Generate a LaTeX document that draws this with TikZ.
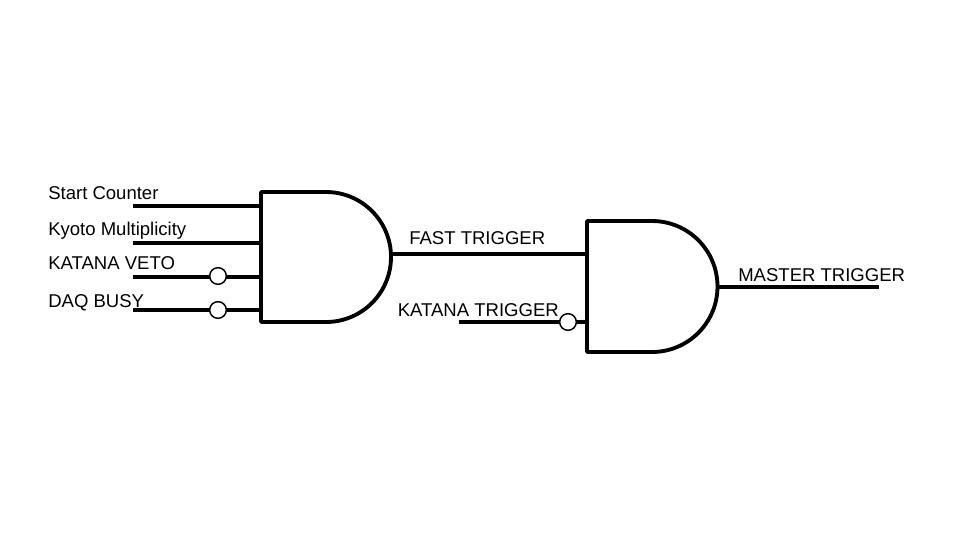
\documentclass[tikz,border=0pt]{standalone}
\usepackage{fontspec}
\setmainfont{Liberation Sans}
\usetikzlibrary{positioning,calc}
\tikzset{
    wire/.style={line width=2.4pt},
    gate/.style={line width=2.9pt,line join=round},
    bubble/.style={circle,draw,fill=white,line width=1.1pt,minimum size=12.5pt,inner sep=0pt},
    signal/.style={anchor=base west,inner sep=0pt,font=\fontsize{13.9pt}{16pt}\selectfont}
}
\begin{document}
\begin{tikzpicture}[x=0.75pt,y=-0.75pt]
    \useasboundingbox (0,0) rectangle (960,540);

    % First gate
    \coordinate (gateAin1) at (261,206);
    \coordinate (gateAin2) at (261,243);
    \coordinate (gateAin3) at (261,277);
    \coordinate (gateAin4) at (261,310);
    \coordinate (gateAout) at (391,254);
    \draw[gate] (261,192) -- (261,322) -- (326,322) arc (90:-90:65) -- cycle;

    % Second gate
    \coordinate (gateBin1) at (587,254);
    \coordinate (gateBin2) at (587,322);
    \coordinate (gateBout) at (717,287);
    \draw[gate] (587,221) -- (587,352) -- (652,352) arc (90:-90:65.5) -- cycle;

    % Inputs of the first gate
    \coordinate (start) at (133,206);
    \coordinate (kyoto) at (133,243);
    \coordinate (veto) at (133,277);
    \coordinate (busy) at (133,310);
    \draw[wire] (start) -- (gateAin1);
    \draw[wire] (kyoto) -- (gateAin2);
    \draw[wire] (veto) -- (gateAin3);
    \draw[wire] (busy) -- (gateAin4);
    \node[bubble] (vetoNot) at (218,276) {};
    \node[bubble] (busyNot) at (218,310) {};

    % Inputs of the second gate
    \coordinate (katana) at (459,322);
    \draw[wire] (gateAout) -- (gateBin1);
    \draw[wire] (katana) -- (gateBin2);
    \node[bubble] (katanaNot) at (568,322) {};

    % Output
    \coordinate (master) at (879,287);
    \draw[wire] (gateBout) -- (master);

    % Labels
    \node[signal] (startText) at (48,199) {Start Counter};
    \node[signal] (kyotoText) at (48,235) {Kyoto Multiplicity};
    \node[signal] (vetoText) at (48,269) {KATANA VETO};
    \node[signal] (busyText) at (48,307) {DAQ BUSY};
    \node[signal] (fastText) at (409,244) {FAST TRIGGER};
    \node[signal] (katanaText) at (397.5,316) {KATANA TRIGGER};
    \node[signal] (masterText) at (738,281) {MASTER TRIGGER};
\end{tikzpicture}
\end{document}
